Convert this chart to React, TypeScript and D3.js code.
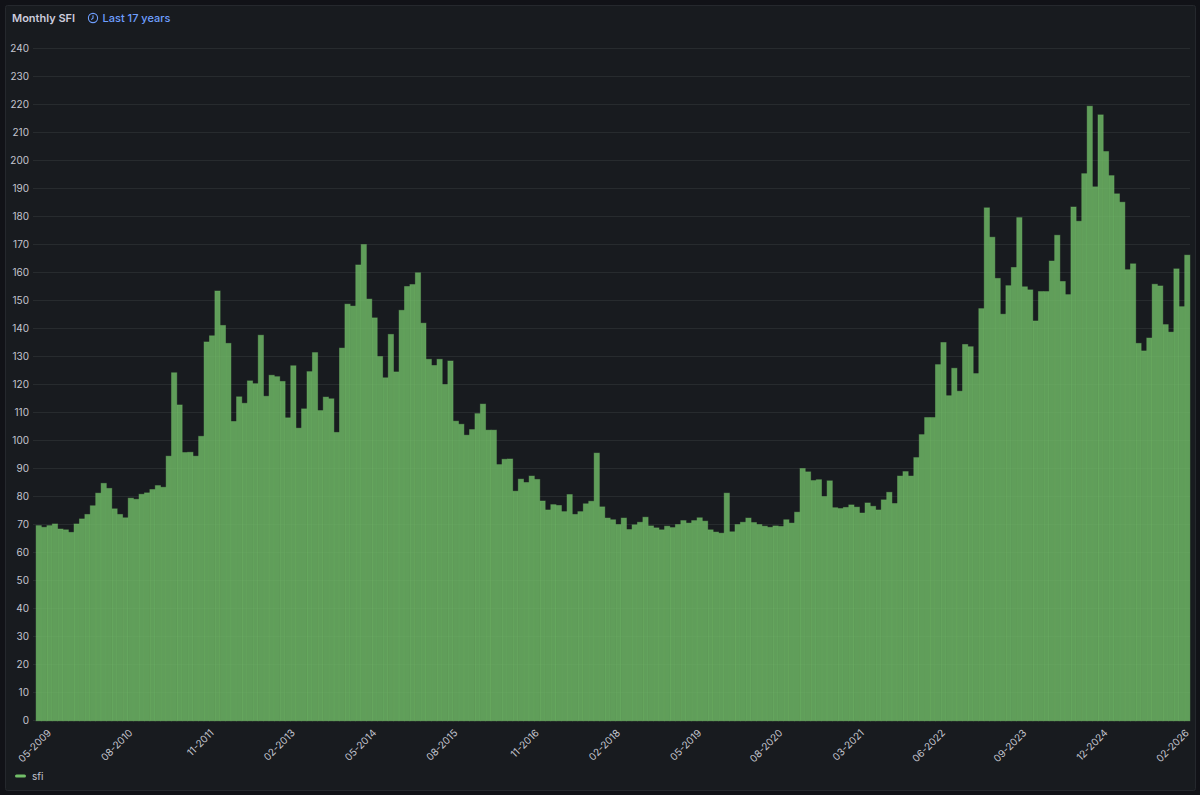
import React from "react";
import * as d3 from "d3";

const sfiPart1 = [69.7,69.1,69.7,70.3,68.5,68.2,67.3,70.3,72.1,73.7,76.8,81.3,84.8,83,75.7,73.7,72.5,79.5,79.1,80.9,81.4,82.6,84,83.4,94.5,124.3,112.8,95.8,95.9,94.5,101.6,135.3,137.5,153.5,141.2,134.8,106.9,115.7,113.4,121.4,120.4,137.7,115.9,123.4,122.9,121.2,108.2,126.8,104.5,111.4,124.7,131.5,110.8];
const sfiPart2 = [115.6,115,103,133.1,148.8,148.1,162.8,170.1,150.6,143.9,130.1,122.5,138,124.6,146.6,155.1,155.8,160,142,129.1,126.9,129.1,120.1,128.5,107,105.9,102,104,109.7,113.1,103.8,103.8,91.5,93.4,93.5,82,86.3,85.1,87.4,86.2,78.5,75.3,77.2,76.9,74.7,80.8,73.7,74.7,77.5,78.4,95.6,76.4,72.4,71.8];
const sfiPart3 = [70.1,72.4,68.3,70,70.9,72.7,69.6,68.9,68.2,69.5,69,70.1,71.5,70.6,71.5,72.5,71.3,68.2,67.4,67,81.3,67.5,70.1,70.9,72.4,70.8,70.1,69.5,69.1,69.6,69.4,71.8,70.6,74.5,90.1,88.9,85.8,86.1,80.1,85.7,76.1,75.8,76.2,77.1,76.3,74.2,77.8,76.6,75.3,78.9,81.6,77.6,87.4,89,87.4,94];
const sfiPart4 = [102.2,108.3,108.3,127.2,135.1,116.1,125.9,117.7,134.4,133.6,124,147.2,183.2,172.7,158,145.2,155.4,161.9,179.7,155,153.9,142.8,153.3,153.3,164.2,173.4,156.9,152.2,183.5,178.4,195.4,219.5,190.7,216.4,203.3,194.7,188.2,185.2,161.1,163.2,134.8,132.1,136.7,155.9,155.3,141.5,138.8,161.4,147.9,166.3];
const sfi = [...sfiPart1, ...sfiPart2, ...sfiPart3, ...sfiPart4];

const xTickLabels = ["05-2009","08-2010","11-2011","02-2013","05-2014","08-2015","11-2016","02-2018","05-2019","08-2020","03-2021","06-2022","09-2023","12-2024","02-2026"];
const xTickEvery = 15;
const yTicks = d3.range(0, 241, 10);

const W = 1200, H = 795;
const FONT = "Inter, 'Noto Sans', sans-serif";
const GREEN = "#73BF69";

export default function App() {
  const x = d3.scaleBand<number>().domain(d3.range(sfi.length)).range([36, 1190]).padding(0);
  const y = d3.scaleLinear().domain([0, 240]).range([720.3, 48.3]);
  const bw = x.bandwidth();
  return (
    <svg width={W} height={H} style={{ position: "absolute", left: 0, top: 0, display: "block" }} fontFamily={FONT}>
      <rect width={W} height={H} fill="#111217" />
      <rect x={5.5} y={5.5} width={1190} height={785} rx={2} fill="#181B1F" stroke="#25282D" />
      <text x={12} y={22} fill="#CCCCDC" fontSize={11} fontWeight={600}>Monthly SFI</text>
      <g stroke="#6E9FFF" fill="none" strokeWidth={1.1}>
        <circle cx={93} cy={18} r={4.6} />
        <path d="M93,15.2V18.3L91.2,19.6" />
      </g>
      <text x={102.5} y={22} fill="#6E9FFF" fontSize={11} fontWeight={500}>Last 17 years</text>

      <g stroke="rgba(240,250,255,0.07)" strokeWidth={1}>
        {yTicks.map((t) => (
          <line key={t} x1={33} x2={1190} y1={Math.round(y(t)) + 0.5} y2={Math.round(y(t)) + 0.5} />
        ))}
      </g>
      <g fill="#C4C5CF" fontSize={10} textAnchor="end">
        {yTicks.map((t) => (
          <text key={t} x={29} y={y(t) + 3.5}>{t}</text>
        ))}
      </g>

      <g>
        {sfi.map((v, i) => (
          <rect
            key={i}
            x={x(i)! + 0.1}
            y={y(v) + 0.5}
            width={bw - 0.2}
            height={y(0) - y(v)}
            fill="rgba(115,191,105,0.8)"
            stroke="rgba(115,191,105,0.4)"
            strokeWidth={1}
          />
        ))}
      </g>

      <g fill="#C4C5CF" fontSize={10} textAnchor="end">
        {xTickLabels.map((l, k) => {
          const i = k * xTickEvery;
          const px = x(i)! + bw / 2 + 13.2;
          return (
            <text key={l} transform={`translate(${px},${733.5}) rotate(-45)`}>{l}</text>
          );
        })}
      </g>

      <line x1={16.5} x2={24.5} y1={776} y2={776} stroke={GREEN} strokeWidth={3} strokeLinecap="round" />
      <text x={32} y={780} fill="#C4C5CF" fontSize={10}>sfi</text>
    </svg>
  );
}
